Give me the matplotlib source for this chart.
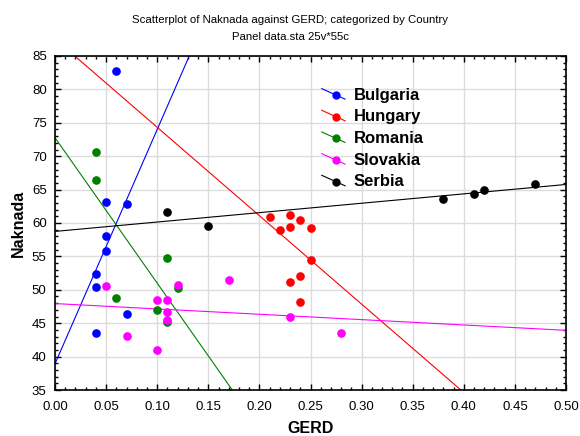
"""
Scatterplot of Naknada against GERD by country, with a linear fit per country.
"""

import numpy as np
import matplotlib
matplotlib.use("Agg")
import matplotlib.pyplot as plt
from matplotlib.lines import Line2D
from matplotlib.legend_handler import HandlerBase

plt.rcParams["font.family"] = ["Liberation Sans", "DejaVu Sans"]

countries = ["Bulgaria", "Hungary", "Romania", "Slovakia", "Serbia"]
colors = ["#0000ff", "#ff0000", "#008000", "#ff00ff", "#000000"]

bulgaria_x = [0.06, 0.05, 0.07, 0.05, 0.05, 0.04, 0.04, 0.07, 0.04]
bulgaria_y = [82.8, 63.1, 62.8, 58.0, 55.8, 52.3, 50.4, 46.4, 43.5]

hungary_x = [0.21, 0.23, 0.24, 0.22, 0.23, 0.25, 0.25, 0.24, 0.23, 0.24]
hungary_y = [60.9, 61.2, 60.4, 58.9, 59.4, 59.3, 54.4, 52.0, 51.2, 48.2]

romania_x = [0.04, 0.04, 0.11, 0.06, 0.10, 0.11, 0.12]
romania_y = [70.6, 66.4, 54.8, 48.8, 47.0, 45.2, 50.3]

slovakia_x = [0.05, 0.10, 0.11, 0.11, 0.11, 0.07, 0.10, 0.12, 0.17, 0.23, 0.28]
slovakia_y = [50.6, 48.5, 48.5, 46.7, 45.5, 43.1, 41.0, 50.7, 51.5, 46.0, 43.6]

serbia_x = [0.11, 0.15, 0.38, 0.41, 0.42, 0.47]
serbia_y = [61.6, 59.5, 63.6, 64.3, 64.9, 65.8]

series_x = [bulgaria_x, hungary_x, romania_x, slovakia_x, serbia_x]
series_y = [bulgaria_y, hungary_y, romania_y, slovakia_y, serbia_y]


class SlantHandler(HandlerBase):
    """Legend key: slanted fit line with a dot on it."""

    def create_artists(self, legend, orig_handle, xdescent, ydescent,
                       width, height, fontsize, trans):
        x0, x1 = -xdescent, -xdescent + width
        y0, y1 = -ydescent + height * 0.95, -ydescent + height * 0.05
        c = orig_handle.get_color()
        line = Line2D([x0, x1], [y0, y1], color=c, lw=0.8, transform=trans)
        dot = Line2D([x0 + width * 0.6], [y0 + (y1 - y0) * 0.6], marker="o",
                     ms=5, color=c, linestyle="", transform=trans)
        return [line, dot]


fig = plt.figure(figsize=(5.8, 4.36), dpi=100)
ax = fig.add_axes([0.0948, 0.1055, 0.8811, 0.7661])

xs = np.array([0.0, 0.5])
handles = []
for name, c, x, y in zip(countries, colors, series_x, series_y):
    ax.plot(x, y, "o", color=c, ms=5.2, zorder=3)
    slope, icpt = np.polyfit(x, y, 1)
    ax.plot(xs, icpt + slope * xs, color=c, lw=0.8, zorder=2)
    handles.append(Line2D([], [], color=c, label=name))

ax.set_xlim(0, 0.5)
ax.set_ylim(35, 85)
ax.set_xticks(np.arange(0, 0.51, 0.05))
ax.set_yticks(np.arange(35, 86, 5))
ax.set_xticks(np.arange(0, 0.501, 0.01), minor=True)
ax.set_yticks(np.arange(35, 85.1, 1), minor=True)
ax.tick_params(which="both", direction="in", top=True, right=True,
               labelsize=9.5, width=1)
ax.tick_params(which="major", length=4)
ax.tick_params(which="minor", length=2.5)
ax.tick_params(axis="x", pad=8)
ax.tick_params(axis="y", pad=6)
ax.set_xticklabels([f"{v:.2f}" for v in np.arange(0, 0.51, 0.05)])
ax.grid(True, color="#dcdcdc", lw=1)
ax.set_axisbelow(True)
for s in ax.spines.values():
    s.set_linewidth(1.2)

ax.set_xlabel("GERD", fontsize=11.5, fontweight="bold", labelpad=6)
ax.set_ylabel("Naknada", fontsize=11.5, fontweight="bold", labelpad=4)
fig.suptitle("Scatterplot of Naknada against GERD; categorized by Country\n"
             "Panel data.sta 25v*55c", fontsize=8.2, y=0.965, x=0.5,
             linespacing=1.8)

ax.legend(handles=handles, handler_map={Line2D: SlantHandler()},
          loc="upper left", bbox_to_anchor=(0.522, 0.905), frameon=False,
          prop={"size": 12, "weight": "bold"}, handlelength=1.4,
          handletextpad=0.5, labelspacing=0.4, borderpad=0, borderaxespad=0)

fig.savefig("out.png", dpi=100)
